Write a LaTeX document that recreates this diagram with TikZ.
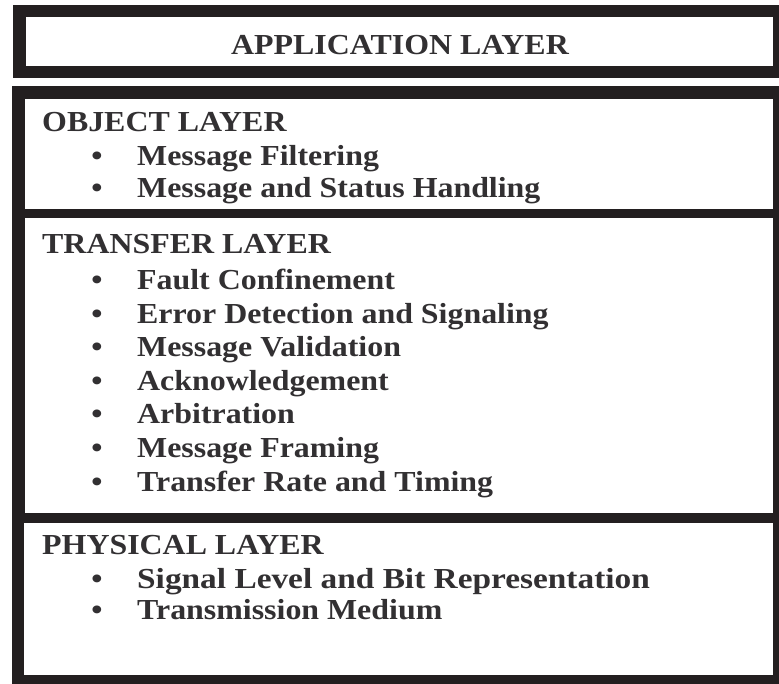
\documentclass[tikz,border=0pt]{standalone}
\usepackage{fontspec}
\setmainfont[FakeStretch=1.10]{Liberation Serif}
\definecolor{framecol}{RGB}{35,31,32}
\definecolor{textcol}{RGB}{50,48,50}
\tikzset{
  layertext/.style={anchor=base west, inner sep=0pt, text=textcol,
    font=\fontsize{29}{34}\selectfont\bfseries},
  titletext/.style={layertext, anchor=base},
  itemtext/.style={layertext},
  bulletdot/.style={layertext, anchor=base}
}
\begin{document}
\begin{tikzpicture}[x=1pt,y=-1pt]
    \useasboundingbox (0,0) rectangle (779,684);

    % frames
    \fill[framecol] (13,5) rectangle (792,78);
    \fill[white] (26,17) rectangle (773,66);
    \fill[framecol] (12,86) rectangle (792,697);
    \fill[white] (25,99) rectangle (773,209);
    \fill[white] (25,218) rectangle (773,513);
    \fill[white] (24,523) rectangle (773,675);

    \node[titletext] (app) at (400,55) {APPLICATION LAYER};

    \node[layertext] (obj) at (42,132) {OBJECT LAYER};
    \node[bulletdot] (objb1) at (97,166) {\textbullet};
    \node[itemtext] (filter) at (137,166) {Message Filtering};
    \node[bulletdot] (objb2) at (97,198) {\textbullet};
    \node[itemtext] (status) at (137,198) {Message and Status Handling};

    \node[layertext] (trans) at (42,254) {TRANSFER LAYER};
    \node[bulletdot] (trb1) at (97,290) {\textbullet};
    \node[itemtext] (fault) at (137,290) {Fault Confinement};
    \node[bulletdot] (trb2) at (97,323.5) {\textbullet};
    \node[itemtext] (error) at (137,323.5) {Error Detection and Signaling};
    \node[bulletdot] (trb3) at (97,357) {\textbullet};
    \node[itemtext] (valid) at (137,357) {Message Validation};
    \node[bulletdot] (trb4) at (97,390.5) {\textbullet};
    \node[itemtext] (ack) at (137,390.5) {Acknowledgement};
    \node[bulletdot] (trb5) at (97,424) {\textbullet};
    \node[itemtext] (arb) at (137,424) {Arbitration};
    \node[bulletdot] (trb6) at (97,457.5) {\textbullet};
    \node[itemtext] (framing) at (137,457.5) {Message Framing};
    \node[bulletdot] (trb7) at (97,491) {\textbullet};
    \node[itemtext] (rate) at (137,491) {Transfer Rate and Timing};

    \node[layertext] (phys) at (42,554) {PHYSICAL LAYER};
    \node[bulletdot] (phb1) at (97,588) {\textbullet};
    \node[itemtext] (signal) at (137,588) {\addfontfeature{FakeStretch=1.15}Signal Level and Bit Representation};
    \node[bulletdot] (phb2) at (97,619) {\textbullet};
    \node[itemtext] (medium) at (137,619) {Transmission Medium};
\end{tikzpicture}
\end{document}
